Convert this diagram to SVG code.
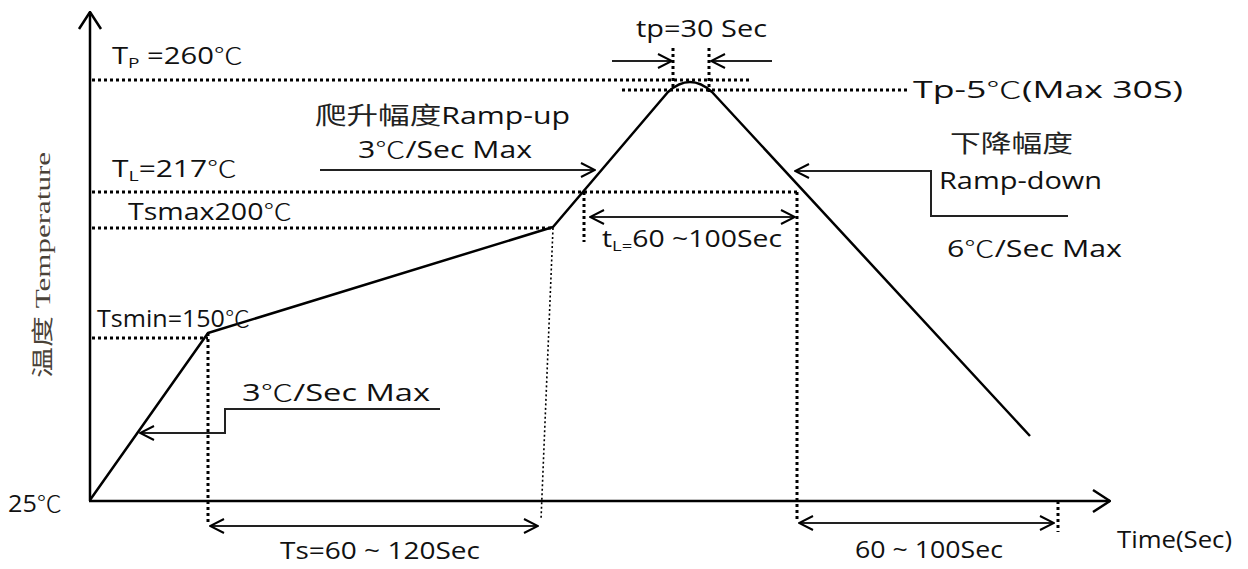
<svg xmlns="http://www.w3.org/2000/svg" width="1248" height="569" viewBox="0 0 1248 569">
<style>
.ax{stroke:#000;stroke-width:2.5;fill:none}
.curve{stroke:#000;stroke-width:2.5;fill:none;stroke-linejoin:round}
.dot{stroke:#000;stroke-width:3;stroke-dasharray:3 3;fill:none}
.thin{stroke:#000;stroke-width:1.6;stroke-dasharray:2 2.5;fill:none}
.ld{stroke:#222;stroke-width:2;fill:none}
.t{font-family:"Open Sans","Noto Sans CJK SC",sans-serif;font-size:23px;fill:#111}
.c{font-family:"Noto Sans CJK SC",sans-serif;font-weight:300}
.cjk{font-family:"Noto Sans CJK SC",sans-serif;font-size:24px;fill:#222}
.yl{font-family:"Liberation Serif","Noto Sans CJK SC",serif;font-size:22px;fill:#4a4238}
</style>
<defs>
<marker id="ah" viewBox="0 0 16 16" refX="15" refY="8" markerWidth="16" markerHeight="16" markerUnits="userSpaceOnUse" orient="auto-start-reverse">
<path d="M1,1 L15,8 L1,15" fill="none" stroke="#000" stroke-width="2"/>
</marker>
<marker id="axh" viewBox="0 0 20 26" refX="19" refY="13" markerWidth="20" markerHeight="26" markerUnits="userSpaceOnUse" orient="auto">
<path d="M2,2 L19,13 L2,24" fill="none" stroke="#000" stroke-width="2.5"/>
</marker>
</defs>
<rect width="1248" height="569" fill="#fff"/>

<g id="axes">
<path class="ax" d="M90,501 L90,12" marker-end="url(#axh)"/>
<path class="ax" d="M89,501 L1110,501" marker-end="url(#axh)"/>
<text class="t" x="8" y="512" textLength="54" lengthAdjust="spacingAndGlyphs">25<tspan class="c">℃</tspan></text>
<text class="yl" transform="translate(50,378) rotate(-90)" textLength="226" lengthAdjust="spacingAndGlyphs">温度 Temperature</text>
<text class="t" x="1117" y="548" textLength="115" lengthAdjust="spacingAndGlyphs">Time(Sec)</text>
</g>

<g id="guides">
<path class="dot" d="M92,80 L752,80"/>
<path class="dot" d="M622,90 L910,90"/>
<path class="dot" d="M92,192 L797,192"/>
<path class="dot" d="M92,228 L553,228"/>
<path class="dot" d="M92,338 L208,338"/>
<path class="dot" d="M673,48 L673,90"/>
<path class="dot" d="M709,48 L709,92"/>
<path class="dot" d="M584,192 L584,242"/>
<path class="dot" d="M797,192 L797,522"/>
<path class="dot" d="M208,333 L208,522"/>
<path class="thin" d="M553,228 L541,520"/>
<path class="dot" d="M1058,501 L1058,532"/>
</g>

<g id="profile">
<path class="curve" d="M90,500 L208,333 L553,227 L668,92 Q690,72 712,92 L1030,436"/>
</g>

<g id="connectors">
<path class="ld" d="M612,61 L672,61" marker-end="url(#ah)"/>
<path class="ld" d="M772,61 L711,61" marker-end="url(#ah)"/>
<path class="ld" d="M320,170 L595,170" marker-end="url(#ah)"/>
<path class="ld" d="M590,217 L795,217" marker-start="url(#ah)" marker-end="url(#ah)"/>
<path class="ld" d="M1068,216 L931,216 L931,171 L795,171" marker-end="url(#ah)"/>
<path class="ld" d="M440,409 L225,409 L225,433 L140,433" marker-end="url(#ah)"/>
<path class="ld" d="M210,526 L538,526" marker-start="url(#ah)" marker-end="url(#ah)"/>
<path class="ld" d="M799,523 L1054,523" marker-start="url(#ah)" marker-end="url(#ah)"/>
</g>

<g id="labels">
<text class="t" x="112" y="64" textLength="131" lengthAdjust="spacingAndGlyphs">T<tspan font-size="15" dy="4">P</tspan><tspan dy="-4"> =260</tspan><tspan class="c">℃</tspan></text>
<text class="t" x="112" y="177" textLength="125" lengthAdjust="spacingAndGlyphs">T<tspan font-size="15" dy="4">L</tspan><tspan dy="-4">=217</tspan><tspan class="c">℃</tspan></text>
<text class="t" x="128" y="220" textLength="164" lengthAdjust="spacingAndGlyphs">Tsmax200<tspan class="c">℃</tspan></text>
<text class="t" x="97" y="327" textLength="153" lengthAdjust="spacingAndGlyphs">Tsmin=150<tspan class="c">℃</tspan></text>
<text class="t" x="242" y="401" textLength="188" lengthAdjust="spacingAndGlyphs">3<tspan class="c">℃</tspan>/Sec Max</text>
<text class="t" x="280" y="559" textLength="200" lengthAdjust="spacingAndGlyphs">Ts=60 ~ 120Sec</text>
<text class="t" x="315" y="124" textLength="255" lengthAdjust="spacingAndGlyphs"><tspan class="cjk">爬升幅度</tspan>Ramp-up</text>
<text class="t" x="358" y="158" textLength="174" lengthAdjust="spacingAndGlyphs">3<tspan class="c">℃</tspan>/Sec Max</text>
<text class="t" x="636" y="37" textLength="131" lengthAdjust="spacingAndGlyphs">tp=30 Sec</text>
<text class="t" x="913" y="98" textLength="270" lengthAdjust="spacingAndGlyphs">Tp-5<tspan class="c">℃</tspan>(Max 30S)</text>
<text class="t" x="602" y="247" textLength="180" lengthAdjust="spacingAndGlyphs">t<tspan font-size="15" dy="4">L=</tspan><tspan dy="-4">60 ~100Sec</tspan></text>
<text class="cjk" x="950" y="152" textLength="123" lengthAdjust="spacingAndGlyphs">下降幅度</text>
<text class="t" x="939" y="189" textLength="163" lengthAdjust="spacingAndGlyphs">Ramp-down</text>
<text class="t" x="947" y="257" textLength="175" lengthAdjust="spacingAndGlyphs">6<tspan class="c">℃</tspan>/Sec Max</text>
<text class="t" x="855" y="558" textLength="148" lengthAdjust="spacingAndGlyphs">60 ~ 100Sec</text>
</g>
</svg>
